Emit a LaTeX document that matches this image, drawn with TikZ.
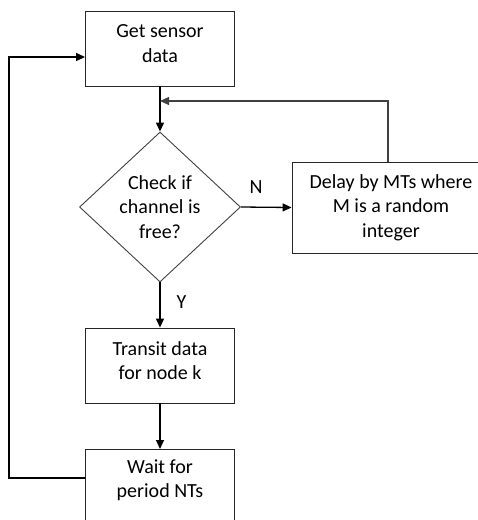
\documentclass[tikz,border=0pt]{standalone}
\usepackage{fontspec}
\setmainfont{Carlito}
\usetikzlibrary{arrows.meta,shapes.geometric}
\begin{document}
\begin{tikzpicture}[x=1pt,y=-1pt,
 box/.style={draw=black!85, line width=0.9pt, minimum width=149pt, inner sep=0pt},
 txt/.style={align=center, font=\fontsize{20}{24.5}\selectfont, inner sep=0pt},
 dec/.style={diamond, draw=black!75, line width=0.9pt, minimum width=161pt, minimum height=150pt, inner sep=0pt},
 arr/.style={line width=1.3pt, -{Triangle[length=9pt,width=8pt]}},
 lbl/.style={font=\fontsize{20}{24}\selectfont, inner sep=0pt}]
\useasboundingbox (0,0) rectangle (478,520);
\clip (0,0) rectangle (478,520);
\node[box, minimum height=75pt] (get) at (160,48.5) {};
\node[txt] (gett) at ([yshift=5pt]get.center) {Get sensor\\data};
\node[dec] (chk) at (160,207) {};
\node[txt] (chkt) at (chk.center) {Check if\\channel is\\free?};
\node[box, minimum width=198pt, minimum height=91pt] (delay) at (391,207.5) {};
\node[txt] (delayt) at (delay.center) {Delay by MTs where\\M is a random\\integer};
\node[box, minimum height=75pt] (tx) at (160,365.5) {};
\node[txt] (txt1) at ([yshift=5pt]tx.center) {Transit data\\for node k};
\node[box, minimum height=90pt, anchor=north] (wait) at (160,449) {};
\node[txt] (waitt) at (160,480) {Wait for\\period NTs};
\coordinate (merge) at (160,101);
\coordinate (wl) at ([yshift=-29pt]wait.north west);
\coordinate (gl) at ([yshift=-8.5pt]get.west);
\draw[arr] (get.south) -- (chk.north);
\draw[arr] (chk.east) -- (delay.west) node[lbl, pos=0.3, above=13pt] {N};
\draw[arr] (chk.south) -- (tx.north) node[lbl, pos=0.43, right=16pt] {Y};
\draw[arr] (tx.south) -- (wait.north);
\draw[arr, line width=1.1pt, draw=black!75] ([xshift=-3pt]delay.north) |- (merge);
\draw[arr] (wl) -- ++(-76,0) |- (gl);
\end{tikzpicture}
\end{document}
